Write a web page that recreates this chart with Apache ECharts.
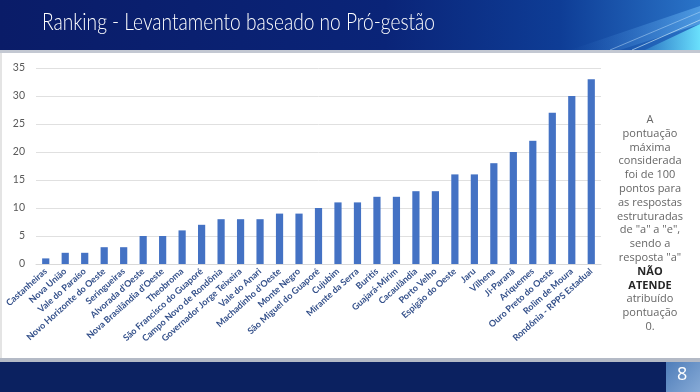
<!DOCTYPE html>
<html>
<head>
<meta charset="utf-8">
<script src="https://cdn.jsdelivr.net/npm/echarts@6/dist/echarts.min.js"></script>
<style>
html,body{margin:0;padding:0;background:#fff;}
#chart{width:700px;height:392px;}
</style>
</head>
<body>
<div id="chart"></div>
<script>
const categories = [
  'Castanheiras','Nova União','Vale do Paraíso','Novo Horizonte do Oeste','Seringueiras',
  "Alvorada d'Oeste","Nova Brasilândia d'Oeste",'Theobroma','São Francisco do Guaporé',
  'Campo Novo de Rondônia','Governador Jorge Teixeira','Vale do Anari',"Machadinho d'Oeste",
  'Monte Negro','São Miguel do Guaporé','Cujubim','Mirante da Serra','Buritis','Guajará-Mirim',
  'Cacaulândia','Porto Velho','Espigão do Oeste','Jaru','Vilhena','Ji-Paraná','Ariquemes',
  'Ouro Preto do Oeste','Rolim de Moura','Rondônia - RPPS Estadual'
];
const values = [1,2,2,3,3,5,5,6,7,8,8,8,9,9,10,11,11,12,12,13,13,16,16,18,20,22,27,30,33];
const yMin = 0, yMax = 35, yStep = 5;
const titleText = 'Ranking - Levantamento baseado no Pró-gestão';
const noteLines = ['A','pontuação','máxima','considerada','foi de 100','pontos para','as respostas',
  'estruturadas','de "a" a "e",','sendo a','resposta "a"','{b|NÃO}','{b|ATENDE}','atribuído','pontuação','0.'];
const pageNumber = '8';

const titleFont = '300 24px Lato';
const cv = document.createElement('canvas').getContext('2d');
cv.font = titleFont;
const titleScale = Math.min(1, 393 / cv.measureText(titleText).width);

const chart = echarts.init(document.getElementById('chart'));
chart.setOption({
  backgroundColor: '#ffffff',
  animation: false,
  grid: {left: 36, right: 99, top: 68, bottom: 128, containLabel: false},
  xAxis: {
    type: 'category', data: categories,
    axisTick: {show: false},
    axisLine: {lineStyle: {color: '#d9d9d9'}},
    axisLabel: {interval: 0, rotate: 42, margin: 6, fontSize: 9, fontWeight: 'bold',
      fontFamily: 'Lato', color: '#34508a'}
  },
  yAxis: {
    type: 'value', min: yMin, max: yMax, interval: yStep,
    axisLine: {show: false}, axisTick: {show: false},
    splitLine: {lineStyle: {color: '#e0e0e0'}},
    axisLabel: {fontSize: 10.5, fontFamily: 'Lato', color: '#595959', margin: 11}
  },
  series: [{type: 'bar', data: values, barWidth: '37%', itemStyle: {color: '#4472c4'}}],
  graphic: [
    {type: 'rect', z: -10, shape: {x: 0, y: 0, width: 700, height: 50},
      style: {fill: new echarts.graphic.LinearGradient(0, 0, 1, 0, [
        {offset: 0, color: '#0a1c68'}, {offset: 0.55, color: '#0a2478'},
        {offset: 0.8, color: '#0e3d96'}, {offset: 1, color: '#2a74c8'}])}},
    {type: 'polygon', z: -9, shape: {points: [[570, 50], [700, 6], [700, 24], [620, 50]]},
      style: {fill: new echarts.graphic.LinearGradient(0, 0, 1, 0, [
        {offset: 0, color: 'rgba(80,150,230,0)'}, {offset: 1, color: 'rgba(120,200,255,0.45)'}])}},
    {type: 'polygon', z: -9, shape: {points: [[645, 50], [700, 24], [700, 50]]},
      style: {fill: new echarts.graphic.LinearGradient(0, 0, 1, 0, [
        {offset: 0, color: 'rgba(90,200,240,0.25)'}, {offset: 1, color: 'rgba(110,230,255,0.95)'}])}},
    {type: 'line', z: -8, shape: {x1: 610, y1: 50, x2: 700, y2: 12},
      style: {stroke: 'rgba(200,230,255,0.45)', lineWidth: 1}},
    {type: 'line', z: -8, shape: {x1: 632, y1: 50, x2: 700, y2: 20},
      style: {stroke: 'rgba(220,245,255,0.6)', lineWidth: 1}},
    {type: 'text', z: 5, x: 42, y: 10, scaleX: titleScale,
      style: {text: titleText, fill: '#ffffff', font: titleFont, textVerticalAlign: 'top'}},
    {type: 'rect', z: -10, shape: {x: 0, y: 50, width: 700, height: 3},
      style: {fill: '#c3c8d2'}},
    {type: 'rect', z: -10, shape: {x: 0, y: 53, width: 2, height: 306},
      style: {fill: '#e4e4e4'}},
    {type: 'rect', z: -10, shape: {x: 0, y: 358, width: 700, height: 4},
      style: {fill: '#b4bac6'}},
    {type: 'rect', z: -10, shape: {x: 0, y: 362, width: 700, height: 30},
      style: {fill: '#0b2160'}},
    {type: 'rect', z: -9, shape: {x: 666, y: 362, width: 34, height: 30},
      style: {fill: new echarts.graphic.LinearGradient(0, 0, 1, 1, [
        {offset: 0, color: '#4f7db9'}, {offset: 1, color: '#86aad6'}])}},
    {type: 'text', z: 5, left: 677, top: 366,
      style: {text: pageNumber, fill: '#ffffff', font: '18px "Open Sans"'}},
    {type: 'text', z: 5, x: 650, y: 113,
      style: {text: noteLines.join('\n'), textAlign: 'center', fill: '#666666',
        font: '11px "Open Sans"', lineHeight: 13.8,
        rich: {b: {fontWeight: 'bold', fill: '#262626', fontSize: 11, fontFamily: 'Open Sans', lineHeight: 13.8}}}}
  ]
});
</script>
</body>
</html>
